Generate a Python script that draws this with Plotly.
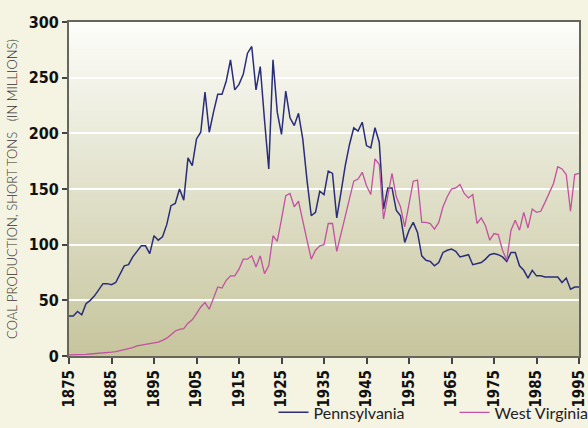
import plotly.graph_objects as go

years = list(range(1875, 1996))

pennsylvania = [
    36, 36, 40, 37, 47, 50, 54, 60, 65, 65,
    64, 66, 74, 81, 82, 89, 94, 99, 99, 92,
    108, 104, 107, 118, 135, 137, 150, 140, 178, 171,
    195, 201, 237, 201, 219, 235, 235, 247, 266, 239,
    244, 253, 272, 278, 239, 260, 212, 168, 266, 219,
    199, 238, 214, 207, 218, 195, 158, 126, 129, 148,
    145, 166, 164, 124, 147, 171, 190, 205, 202, 210,
    189, 187, 205, 192, 132, 151, 151, 131, 126, 102,
    113, 120, 111, 90, 86, 85, 81, 84, 93, 95,
    96, 94, 89, 90, 91, 82, 83, 84, 87, 91,
    92, 91, 89, 85, 93, 93, 81, 77, 70, 77,
    72, 72, 71, 71, 71, 71, 66, 70, 60, 62,
    62,
]

west_virginia = [
    1.0, 1.0, 1.2, 1.2, 1.5, 1.8, 2.0, 2.3, 2.8, 3.3,
    3.4, 4.0, 4.8, 5.5, 6.3, 7.5, 9.0, 9.7, 10.5, 11.3,
    11.5, 12.5, 14, 16, 19, 22.5, 24, 24.5, 29.5, 32.5,
    38, 44, 48, 42, 52, 62, 61, 68, 72, 72,
    78, 87, 87, 90, 80, 90, 74, 81, 108, 103,
    123, 144, 146, 134, 139, 120, 104, 87, 95, 99,
    100, 119, 119, 94, 110, 126, 141, 157, 159, 165,
    153, 145, 177, 172, 123, 143, 164, 143, 134, 116,
    138, 157, 158, 120, 120, 119, 114, 120, 134, 143,
    150, 151, 154, 146, 142, 145, 119, 124, 117, 104,
    110, 109, 95, 86, 113, 122, 113, 129, 115, 132,
    129, 130, 138, 147, 155, 170, 168, 163, 130, 163,
    164,
]

x_ticks = list(range(1875, 1996, 10))
y_ticks = [0, 50, 100, 150, 200, 250, 300]

fig = go.Figure()
fig.add_trace(go.Scatter(
    x=years, y=pennsylvania, mode="lines", name="Pennsylvania",
    line=dict(color="#2a2d78", width=1.5), legend="legend",
))
fig.add_trace(go.Scatter(
    x=years, y=west_virginia, mode="lines", name="West Virginia",
    line=dict(color="#c2529f", width=1.3), legend="legend2",
))

# vertical gradient background for the plot area
n = 60
top = (253, 253, 250)
bot = (198, 197, 157)
shapes = []
for i in range(n):
    t = (i + 0.5) / n
    c = tuple(round(top[k] + (bot[k] - top[k]) * t) for k in range(3))
    shapes.append(dict(
        type="rect", xref="paper", yref="paper",
        x0=0, x1=1, y0=1 - (i + 1) / n, y1=1 - i / n + 0.002,
        fillcolor="rgb(%d,%d,%d)" % c, line=dict(width=0), layer="below",
    ))

cond = "Liberation Sans Narrow, DejaVu Sans Condensed, Arial Narrow, sans-serif"
legend_font = dict(family="Lato, sans-serif", size=16, color="#222222", weight=400)

fig.update_layout(
    width=588, height=428,
    margin=dict(l=69, r=9, t=22, b=72, autoexpand=False),
    paper_bgcolor="#f5f3e1",
    plot_bgcolor="#e2e1cc",
    shapes=shapes,
    showlegend=True,
    legend=dict(
        orientation="h", x=0.401, xanchor="left",
        yref="container", y=0.076, yanchor="top",
        font=legend_font, bgcolor="rgba(0,0,0,0)",
    ),
    legend2=dict(
        orientation="h", x=0.756, xanchor="left",
        yref="container", y=0.076, yanchor="top",
        font=legend_font, bgcolor="rgba(0,0,0,0)",
    ),
    xaxis=dict(
        range=[1875, 1995], tickmode="array", tickvals=x_ticks,
        ticktext=[str(v) for v in x_ticks], tickangle=-90,
        tickfont=dict(family=cond, size=15, color="#111111", weight="bold"),
        ticks="outside", ticklen=6, tickwidth=1.5, tickcolor="#444444",
        showgrid=False, zeroline=False,
        showline=True, linecolor="#66665a", linewidth=2, mirror=True,
    ),
    yaxis=dict(
        range=[0, 300], tickmode="array", tickvals=y_ticks,
        ticktext=[str(v) for v in y_ticks],
        tickfont=dict(family=cond, size=16, color="#111111", weight="bold"),
        ticks="outside", ticklen=5, tickwidth=1.5, tickcolor="#444444",
        showgrid=True, gridcolor="#ffffff", gridwidth=1.5,
        zeroline=False,
        showline=True, linecolor="#66665a", linewidth=2, mirror=True,
        title=dict(
            text="COAL PRODUCTION, SHORT TONS\u00a0\u00a0\u00a0(IN MILLIONS)",
            font=dict(family="Lato, sans-serif", size=13, color="#333333", weight=300),
            standoff=8,
        ),
    ),
)

fig.write_html("out.html", config={"displayModeBar": False},
               post_script="document.body.style.margin='0';")
